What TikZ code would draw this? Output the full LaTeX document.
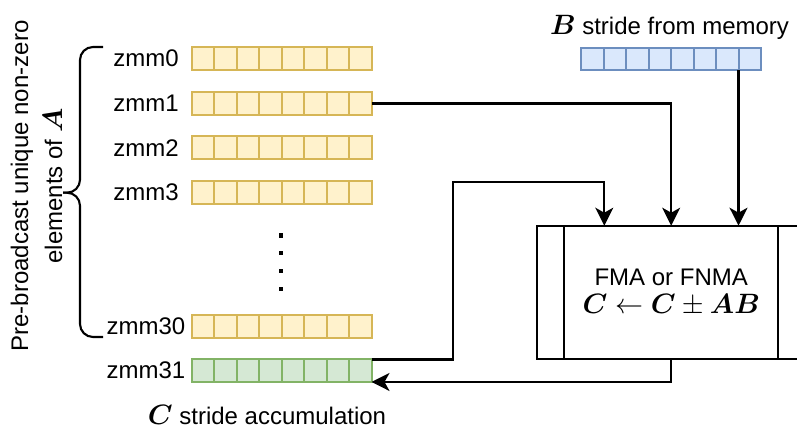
\RequirePackage{fix-cm}
\documentclass[tikz,border=0pt]{standalone}
\usepackage{amsmath, amssymb}
\usepackage{bm}
\usepackage{fontspec}
\setmainfont{Liberation Sans}
\usepackage{tikz}
\usetikzlibrary{arrows.meta, calc}

\definecolor{yfill}{HTML}{FFF2CC}
\definecolor{ydraw}{HTML}{D6B656}
\definecolor{bfill}{HTML}{DAE8FC}
\definecolor{bdraw}{HTML}{6C8EBF}
\definecolor{gfill}{HTML}{D5E8D4}
\definecolor{gdraw}{HTML}{82B366}

\newcommand\bigmath{\fontsize{28}{32}\selectfont}

\tikzset{
    txt/.style={font=\fontsize{24}{28}\selectfont, inner sep=0pt},
    reg/.style={draw, line width=2pt, minimum width=179.5pt, minimum height=22.5pt, inner sep=0pt, outer sep=0pt},
}

\begin{document}
\begin{tikzpicture}[x=1pt, y=-1pt, line width=2.1pt, >={Stealth[length=18pt, width=18pt, inset=5pt]}]

    \clip (0,0) rectangle (797,427);

    % broadcast registers and the accumulator
    \foreach \r/\y in {0/58.5, 1/103.5, 2/147.7, 3/192.3, 30/326.5}{
        \node[reg, draw=ydraw, fill=yfill] (zmm\r) at (281.75,\y) {};
        \node[txt] (lbl\r) at (146,\y) {zmm\r};
        \foreach \k in {1,...,7}{
            \draw[ydraw, line width=2pt] ($(zmm\r.north west)!\k/8!(zmm\r.north east)$) -- ($(zmm\r.south west)!\k/8!(zmm\r.south east)$);
        }
    }
    \node[reg, draw=gdraw, fill=gfill] (zmm31) at (281.75,370.7) {};
    \node[txt] (lbl31) at (146,370.7) {zmm31};
    \foreach \k in {1,...,7}{
        \draw[gdraw, line width=2pt] ($(zmm31.north west)!\k/8!(zmm31.north east)$) -- ($(zmm31.south west)!\k/8!(zmm31.south east)$);
    }

    % B row
    \node[reg, draw=bdraw, fill=bfill] (B) at (671.2,59.2) {};
    \foreach \k in {1,...,7}{
        \draw[bdraw, line width=2pt] ($(B.north west)!\k/8!(B.north east)$) -- ($(B.south west)!\k/8!(B.south east)$);
    }
    \node[txt] (blbl) at (669.5,27) {{\bigmath$\bm{B}$} stride from memory};

    % vertical dots
    \foreach \y in {235.7,253,271,289}{
        \fill (278.5,\y-2.2) rectangle ++(4.5,4.5);
    }

    % brace and its label
    \draw[rounded corners=13pt] (103,47) -- (80,47) -- (80,192.7) -- (63,192.7);
    \draw[rounded corners=13pt] (63,192.7) -- (80,192.7) -- (80,337) -- (103,337);
    \node[txt, rotate=90, anchor=base] (alabel) at (28,186) {Pre-broadcast unique non-zero};
    \node[txt, rotate=90, anchor=base] (alabel2) at (62,186) {elements of {\bigmath$\bm{A}$}};

    % FMA unit
    \node[draw, minimum width=267.7pt, minimum height=133.6pt, outer sep=0pt, txt, align=center] (fma) at (671.2,292.5)
        {FMA or FNMA\\{\bigmath$\bm{C}\leftarrow\bm{C}\pm\bm{AB}$}};
    \draw ($(fma.north west)+(27,0)$) -- ($(fma.south west)+(27,0)$);
    \draw ($(fma.north east)+(-27,0)$) -- ($(fma.south east)+(-27,0)$);

    % data paths
    \coordinate (bout) at ($(B.south west)!0.875!(B.south east)$);
    \coordinate (cin) at ($(fma.north west)!0.25!(fma.north east)$);
    \coordinate (feed) at (453.3,181.7);
    \draw[->] (bout) -- (bout |- fma.north);
    \draw[->] (zmm1.east) -| (fma.north);
    \draw[->] (zmm31.north east) -| (feed) -| (cin);
    \draw[->] (fma.south) |- (zmm31.south east);

    \node[txt] (clbl) at (267,415) {{\bigmath$\bm{C}$} stride accumulation};

\end{tikzpicture}
\end{document}
